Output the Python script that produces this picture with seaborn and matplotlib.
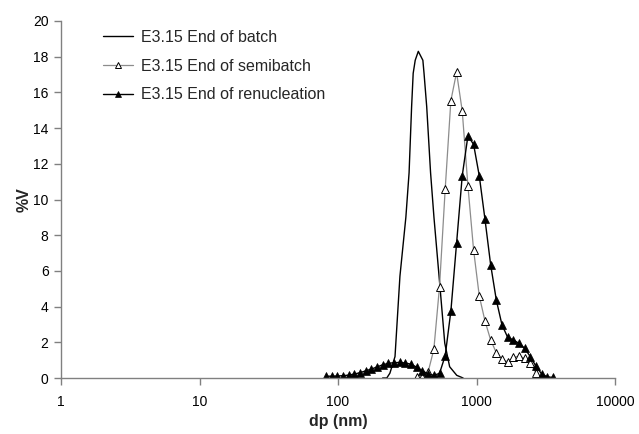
import numpy as np
import pandas as pd
import matplotlib
matplotlib.use("Agg")
import matplotlib.pyplot as plt
import seaborn as sns
from matplotlib.ticker import FixedLocator, FixedFormatter, NullLocator

# ---- data ----
# particle diameter grid (nm)
dp_grid = [81.8, 89.9, 98.9, 108.6, 119.4, 131.2, 144.2, 158.5, 174.2, 191.4,
           210.4, 231.2, 254.1, 279.3, 306.9, 337.3, 370.7, 407.4, 447.7, 492.0,
           540.8, 594.3, 653.1, 717.8, 788.9, 866.9, 952.8, 1047, 1151, 1265,
           1390, 1528, 1679, 1845, 2028, 2228, 2449, 2692, 2958, 3251, 3573]

batch_dp = [210, 225, 237, 258, 280, 309, 326, 340, 349, 361, 380, 410,
            418, 437, 466, 493, 545, 590, 640, 720, 800]
batch_v = [0.0, 0.0, 0.27, 1.2, 5.7, 9.0, 11.5, 15.2, 17.07, 17.8, 18.3, 17.8,
           17.07, 15.2, 11.5, 9.0, 5.1, 1.95, 0.63, 0.15, 0.0]

semi_dp = dp_grid[16:39]
semi_v = [0.05, 0.05, 0.35, 1.6, 5.12, 10.59, 15.54, 17.12, 14.96, 10.77,
          7.17, 4.6, 3.2, 2.13, 1.42, 1.04, 0.91, 1.15, 1.23, 1.1,
          0.82, 0.28, 0.03]

renuc_dp = dp_grid
renuc_v = [0.1, 0.1, 0.11, 0.13, 0.16, 0.22, 0.3, 0.4, 0.5, 0.62,
           0.74, 0.82, 0.86, 0.87, 0.84, 0.77, 0.6, 0.4, 0.22, 0.15,
           0.26, 1.25, 3.75, 7.54, 11.33, 13.56, 13.09, 11.33, 8.9, 6.35,
           4.37, 2.97, 2.28, 2.13, 1.94, 1.66, 1.19, 0.65, 0.22, 0.06, 0.03]

labels = ["E3.15 End of batch", "E3.15 End of semibatch", "E3.15 End of renucleation"]
xticks = [1, 10, 100, 1000, 10000]
xtick_labels = ["1", "10", "100", "1000", "10000"]
yticks = [0, 2, 4, 6, 8, 10, 12, 14, 16, 18, 20]

# ---- plot ----
sns.set_style("white")
plt.rcParams["font.family"] = ["Liberation Sans", "DejaVu Sans"]

fig = plt.figure(figsize=(6.39, 4.34), dpi=100)
ax = fig.add_axes([61/639, 1 - 378/434, (615-61)/639, (378-21)/434])

sns.lineplot(x=batch_dp, y=batch_v, ax=ax, color="black", linewidth=1.0,
             label=labels[0], sort=False)
sns.lineplot(x=semi_dp, y=semi_v, ax=ax, color="#8c8c8c", linewidth=0.9,
             marker="^", markersize=5.5, markerfacecolor="white",
             markeredgecolor="black", markeredgewidth=0.7,
             label=labels[1], sort=False)
sns.lineplot(x=renuc_dp, y=renuc_v, ax=ax, color="black", linewidth=1.0,
             marker="^", markersize=5.5, markerfacecolor="black",
             markeredgecolor="black", markeredgewidth=0.5,
             label=labels[2], sort=False)

ax.set_xscale("log")
ax.set_xlim(1, 10000)
ax.set_ylim(0, 20)
ax.xaxis.set_major_locator(FixedLocator(xticks))
ax.xaxis.set_major_formatter(FixedFormatter(xtick_labels))
ax.xaxis.set_minor_locator(NullLocator())
ax.set_yticks(yticks)
ax.set_yticklabels([str(v) for v in yticks])

for side in ["top", "right"]:
    ax.spines[side].set_visible(False)
for side in ["left", "bottom"]:
    ax.spines[side].set_color("#808080")
    ax.spines[side].set_linewidth(1.0)

ax.tick_params(axis="both", which="major", direction="out", length=5,
               width=1.0, color="#808080", labelsize=10, labelcolor="black",
               left=True, bottom=True)
ax.tick_params(axis="y", pad=4)
ax.tick_params(axis="x", pad=7)

ax.set_xlabel("dp (nm)", fontsize=11.5, fontweight="bold", labelpad=4)
ax.set_ylabel("%V", fontsize=11.5, fontweight="bold", labelpad=1)

leg = ax.legend(loc="upper left", bbox_to_anchor=(103/639, 1 - 30/434),
                bbox_transform=fig.transFigure, frameon=False, fontsize=11.5,
                handlelength=1.9, handletextpad=0.45, labelspacing=0.86,
                borderpad=0, borderaxespad=0, markerscale=0.8)

fig.savefig("out.png", dpi=100)
